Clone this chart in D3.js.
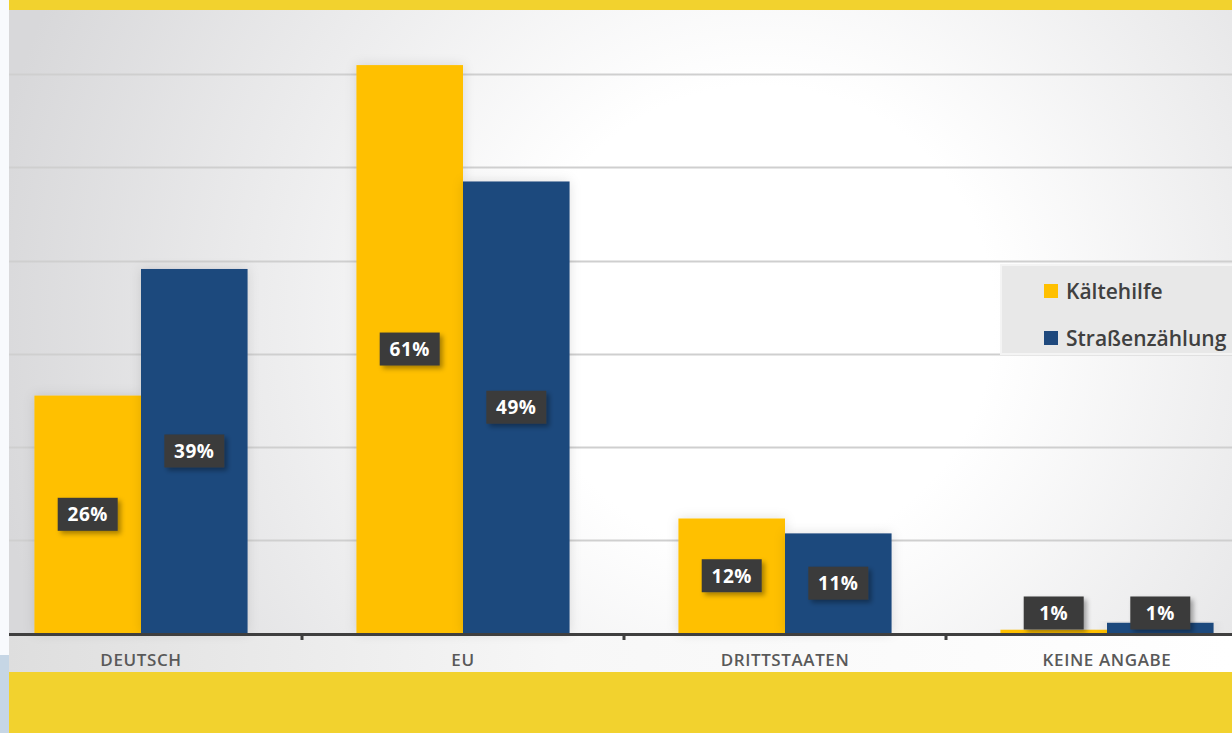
<!DOCTYPE html>
<meta charset="utf-8">
<style>
body { margin: 0; background: #fff; }
svg { display: block; }
text { font-family: "Open Sans", "DejaVu Sans", sans-serif; }
</style>
<svg width="1232" height="733"></svg>
<script src="https://cdn.jsdelivr.net/npm/d3@7"></script>
<script>
// Werte (Anteil in %)
var categories = ["DEUTSCH", "EU", "DRITTSTAATEN", "KEINE ANGABE"];
var seriesNames = ["Kältehilfe", "Straßenzählung"];
var kaeltehilfe = [25.5, 61, 12.3, 0.35];
var strassenzaehlung = [39.1, 48.5, 10.7, 1.1];
var kaeltehilfeLabels = ["26%", "61%", "12%", "1%"];
var strassenLabels = ["39%", "49%", "11%", "1%"];
var gridTicks = [10, 20, 30, 40, 50, 60];
var colors = ["#ffc000", "#1f497d"];

var svg = d3.select("svg"),
    width = +svg.attr("width"),
    height = +svg.attr("height");

var baseY = 633, plotLeft = 9;

var x0 = d3.scaleBand()
    .domain(categories)
    .range([-20, 1268])
    .paddingInner(0.338)
    .paddingOuter(0.169);

var x1 = d3.scaleBand()
    .domain(seriesNames)
    .range([0, x0.bandwidth()]);

var y = d3.scaleLinear()
    .domain([0, 70])
    .range([baseY, baseY - 70 * 9.31]);

var defs = svg.append("defs");

var bg = defs.append("radialGradient")
    .attr("id", "bg")
    .attr("gradientUnits", "userSpaceOnUse")
    .attr("cx", 760).attr("cy", 320).attr("r", 780);
bg.append("stop").attr("offset", "0.3").attr("stop-color", "#ffffff");
bg.append("stop").attr("offset", "1").attr("stop-color", "#d8d8da");

var band = defs.append("linearGradient")
    .attr("id", "band");
band.append("stop").attr("offset", "0").attr("stop-color", "#dedede");
band.append("stop").attr("offset", "0.45").attr("stop-color", "#f7f7f7");
band.append("stop").attr("offset", "1").attr("stop-color", "#ffffff");

var shadow = defs.append("filter")
    .attr("id", "shadow")
    .attr("x", "-30%").attr("y", "-30%")
    .attr("width", "170%").attr("height", "170%");
shadow.append("feDropShadow")
    .attr("dx", 3).attr("dy", 3)
    .attr("stdDeviation", 2.5)
    .attr("flood-color", "#000")
    .attr("flood-opacity", 0.35);

var barShadow = defs.append("filter")
    .attr("id", "barShadow")
    .attr("x", "-20%").attr("y", "-10%")
    .attr("width", "140%").attr("height", "120%");
barShadow.append("feDropShadow")
    .attr("dx", 0).attr("dy", 0)
    .attr("stdDeviation", 6)
    .attr("flood-color", "#000")
    .attr("flood-opacity", 0.12);

// linker Randstreifen
svg.append("rect")
    .attr("x", 0).attr("y", 0)
    .attr("width", plotLeft).attr("height", height)
    .attr("fill", "#f8fafd");
svg.append("rect")
    .attr("x", 0).attr("y", 655)
    .attr("width", plotLeft).attr("height", height - 655)
    .attr("fill", "#c6d6e5");

// Hintergrund
svg.append("rect")
    .attr("x", plotLeft).attr("y", 10)
    .attr("width", width - plotLeft).attr("height", baseY - 10)
    .attr("fill", "url(#bg)");

svg.append("rect")
    .attr("x", plotLeft).attr("y", baseY)
    .attr("width", width - plotLeft).attr("height", 672 - baseY)
    .attr("fill", "url(#band)");

// Gitterlinien
svg.append("g")
  .selectAll("line")
  .data(gridTicks)
  .enter().append("line")
    .attr("x1", plotLeft).attr("x2", width)
    .attr("y1", function(d) { return Math.round(y(d)) + 0.5; })
    .attr("y2", function(d) { return Math.round(y(d)) + 0.5; })
    .attr("stroke", "#cfcfcf")
    .attr("stroke-width", 2);

var rows = categories.map(function(c, i) {
  return {
    cat: c,
    vals: [
      {s: seriesNames[0], v: kaeltehilfe[i], label: kaeltehilfeLabels[i], color: colors[0]},
      {s: seriesNames[1], v: strassenzaehlung[i], label: strassenLabels[i], color: colors[1]}
    ]
  };
});

var groups = svg.append("g")
  .selectAll("g")
  .data(rows)
  .enter().append("g")
    .attr("transform", function(d) { return "translate(" + x0(d.cat) + ",0)"; });

groups.selectAll("rect")
  .data(function(d) { return d.vals; })
  .enter().append("rect")
    .attr("x", function(d) { return x1(d.s); })
    .attr("y", function(d) { return y(d.v); })
    .attr("width", x1.bandwidth())
    .attr("height", function(d) { return baseY - y(d.v); })
    .attr("fill", function(d) { return d.color; })
    .attr("filter", "url(#barShadow)");

// Achse
svg.append("line")
    .attr("x1", plotLeft).attr("x2", width)
    .attr("y1", baseY + 1.5).attr("y2", baseY + 1.5)
    .attr("stroke", "#3f3f3f")
    .attr("stroke-width", 3);

var ticks = categories.slice(1).map(function(c) { return x0(c) - x0.step() * x0.paddingInner() / 2; });
svg.append("g")
  .selectAll("rect")
  .data(ticks)
  .enter().append("rect")
    .attr("x", function(d) { return d - 1.5; })
    .attr("y", baseY + 2)
    .attr("width", 3).attr("height", 5)
    .attr("fill", "#3f3f3f");

svg.append("g")
  .selectAll("text")
  .data(categories)
  .enter().append("text")
    .attr("x", function(d) { return x0(d) + x0.bandwidth() / 2; })
    .attr("y", 666)
    .attr("text-anchor", "middle")
    .attr("fill", "#595959")
    .style("font-size", "17px")
    .style("font-weight", 600)
    .style("letter-spacing", "0.6px")
    .text(function(d) { return d; });

// Datenbeschriftungen
var labels = groups.selectAll(".lbl")
  .data(function(d) { return d.vals; })
  .enter().append("g")
    .attr("class", "lbl")
    .attr("transform", function(d) {
      var cy = Math.min((y(d.v) + baseY) / 2, baseY - 20);
      return "translate(" + (x1(d.s) + x1.bandwidth() / 2) + "," + cy + ")";
    });

labels.append("rect")
    .attr("x", -30).attr("y", -16.5)
    .attr("width", 60).attr("height", 33)
    .attr("fill", "#3a3a3a")
    .attr("filter", "url(#shadow)");

labels.append("text")
    .attr("text-anchor", "middle")
    .attr("dy", "0.36em")
    .attr("fill", "#ffffff")
    .style("font-size", "19px")
    .style("font-weight", 700)
    .style("letter-spacing", "0.5px")
    .text(function(d) { return d.label; });

// Legende
var legend = svg.append("g");
legend.append("rect")
    .attr("x", 1001).attr("y", 265)
    .attr("width", 240).attr("height", 89)
    .attr("fill", "#e8e8e8")
    .attr("stroke", "#f4f4f4")
    .attr("stroke-width", 2);

var items = legend.selectAll("g")
  .data(seriesNames)
  .enter().append("g")
    .attr("transform", function(d, i) { return "translate(1044," + (284 + i * 47) + ")"; });

items.append("rect")
    .attr("width", 14).attr("height", 14)
    .attr("fill", function(d, i) { return colors[i]; });

items.append("text")
    .attr("x", 22).attr("y", 15)
    .attr("fill", "#404040")
    .style("font-size", "21px")
    .style("font-weight", 600)
    .text(function(d) { return d; });

// gelbe Bänder
svg.append("rect")
    .attr("x", plotLeft).attr("y", 0)
    .attr("width", width - plotLeft).attr("height", 10)
    .attr("fill", "#f2d22e");
svg.append("rect")
    .attr("x", plotLeft).attr("y", 672)
    .attr("width", width - plotLeft).attr("height", height - 672)
    .attr("fill", "#f2d22e");
</script>
